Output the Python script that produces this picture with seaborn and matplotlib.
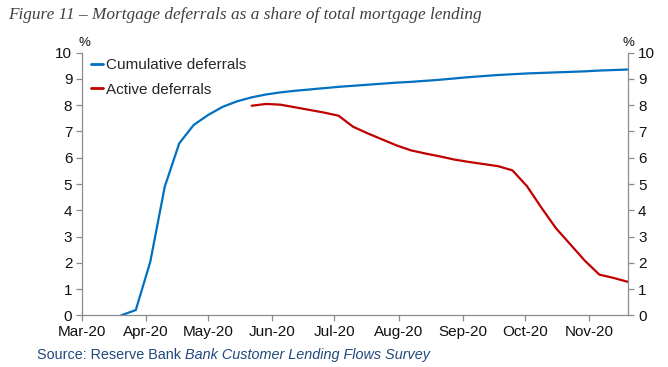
import matplotlib
matplotlib.use("Agg")
import matplotlib.pyplot as plt
import matplotlib.dates as mdates
import seaborn as sns
import pandas as pd
import numpy as np

# ---- data (weekly) ----
dates = pd.date_range("2020-03-20", "2020-11-20", freq="7D")
cumulative = [0.0, 0.2, 2.04, 4.9, 6.55, 7.25, 7.63, 7.94, 8.15, 8.3, 8.41, 8.49,
              8.55, 8.6, 8.65, 8.7, 8.74, 8.78, 8.82, 8.86, 8.89, 8.93, 8.97, 9.02,
              9.07, 9.11, 9.15, 9.18, 9.21, 9.23, 9.25, 9.27, 9.29, 9.32, 9.34, 9.36]
active_start = "2020-05-22"
active = [7.98, 8.05, 8.02, 7.92, 7.82, 7.72, 7.6, 7.18, 6.93, 6.70, 6.47, 6.28,
          6.16, 6.05, 5.93, 5.84, 5.76, 5.68, 5.52, 4.92, 4.1, 3.32, 2.7, 2.08,
          1.55, 1.42, 1.27]
series_names = ["Cumulative deferrals", "Active deferrals"]
y_ticks = list(range(0, 11))

active_dates = pd.date_range(active_start, periods=len(active), freq="7D")
df = pd.concat([
    pd.DataFrame({"date": dates, "value": cumulative, "series": series_names[0]}),
    pd.DataFrame({"date": active_dates, "value": active, "series": series_names[1]}),
])

sns.set_style("white")
plt.rcParams["font.family"] = ["Liberation Sans", "DejaVu Sans"]

fig = plt.figure(figsize=(6.68, 3.67), dpi=100)
ax = fig.add_axes([82 / 668, 1 - 315.3 / 367, (628.3 - 82) / 668, (315.3 - 52.7) / 367])

palette = {series_names[0]: "#0070C0", series_names[1]: "#C00000"}
sns.lineplot(data=df, x="date", y="value", hue="series", palette=palette,
             linewidth=1.6, ax=ax, legend=True)

ax.set_xlim(pd.Timestamp("2020-03-01"), pd.Timestamp("2020-11-20"))
ax.set_ylim(0, 10)
ax.set_yticks(y_ticks)
ax.xaxis.set_major_locator(mdates.MonthLocator())
ax.xaxis.set_major_formatter(mdates.DateFormatter("%b-%y"))
ax.set_xlabel("")
ax.set_ylabel("")

for s in ["left", "right", "bottom"]:
    ax.spines[s].set_visible(True)
    ax.spines[s].set_color("#8c8c8c")
    ax.spines[s].set_linewidth(0.9)
ax.spines["top"].set_visible(False)

ax.yaxis.set_ticks_position("both")
ax.tick_params(axis="y", which="both", direction="out", length=4, width=0.9,
               color="#8c8c8c", labelsize=11, labelcolor="#111111",
               left=True, right=True, labelleft=True, labelright=True, pad=3)
ax.tick_params(axis="x", direction="out", length=4, width=0.9, color="#8c8c8c",
               labelsize=11, labelcolor="#111111", bottom=True, pad=3)

leg = ax.legend(loc="upper left", bbox_to_anchor=(91 / 668, 1 - 58 / 367),
                bbox_transform=fig.transFigure, frameon=False, fontsize=11,
                handlelength=0.8, handletextpad=0.15, labelspacing=0.7,
                borderpad=0, borderaxespad=0)
for line in leg.get_lines():
    line.set_linewidth(2.0)

fig.text(84 / 668, 1 - 43 / 367, "%", fontsize=9.5, ha="center", va="center", color="#111111")
fig.text(628 / 668, 1 - 43 / 367, "%", fontsize=9.5, ha="center", va="center", color="#111111")

fig.text(8 / 668, 1 - 15 / 367,
         "Figure 11 \u2013 Mortgage deferrals as a share of total mortgage lending",
         fontsize=12.4, family=["Liberation Serif", "DejaVu Serif"], style="italic",
         color="#404040", ha="left", va="center")

t1 = fig.text(37 / 668, 1 - 355 / 367, "Source: Reserve Bank ", fontsize=10.4,
              color="#1F497D", ha="left", va="center")
fig.canvas.draw()
bb = t1.get_window_extent()
fig.text(bb.x1 / fig.bbox.width, 1 - 355 / 367, "Bank Customer Lending Flows Survey",
         fontsize=10.4, style="italic", color="#1F497D", ha="left", va="center")

fig.savefig("out.png", dpi=100)
